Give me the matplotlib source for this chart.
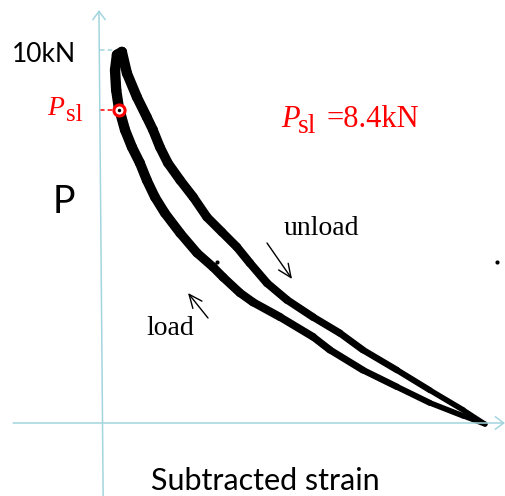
import matplotlib
matplotlib.use("Agg")
import numpy as np
from matplotlib import pyplot as plt
from matplotlib.collections import LineCollection

# normalised subtracted strain (loop tip = 1.0) and load P in kN
load_strain = [1.000, 0.943, 0.856, 0.770, 0.681, 0.595, 0.551, 0.465, 0.394, 0.360,
               0.316, 0.290, 0.248, 0.204, 0.164, 0.138, 0.117, 0.099, 0.078, 0.060,
               0.044, 0.037, 0.034, 0.039]
load_p = [-0.03, 0.19, 0.54, 0.97, 1.42, 1.96, 2.31, 2.84, 3.24, 3.49,
          3.91, 4.18, 4.56, 5.09, 5.63, 6.06, 6.51, 6.97, 7.40, 7.86,
          8.45, 8.93, 9.46, 9.87]
unload_strain = [0.052, 0.065, 0.091, 0.117, 0.133, 0.151, 0.172, 0.204, 0.238, 0.274,
                 0.313, 0.352, 0.386, 0.431, 0.483, 0.551, 0.621, 0.681, 0.770, 0.856,
                 0.943, 1.000]
unload_p = [9.95, 9.38, 8.74, 8.20, 7.86, 7.40, 6.97, 6.51, 6.06, 5.52,
            5.12, 4.72, 4.29, 3.75, 3.30, 2.84, 2.41, 1.96, 1.42, 0.88,
            0.35, -0.03]
speck_strain = [0.300, 1.031]
speck_p = [4.32, 4.32]

P_MAX = 10.0
P_SL = 8.4
SL_STRAIN = 0.044

W, H = 506, 496
AXIS_C = "#a3d5de"

fig = plt.figure(figsize=(W / 100, H / 100), dpi=100)
ax = fig.add_axes([0, 0, 1, 1])
ax.set_xlim(-102 / 383, 404 / 383)
ax.set_ylim(-73 / 37.3, 423 / 37.3)
ax.axis("off")


def fp(x, y):
    # picture pixel (top-left origin) -> figure fraction
    return x / W, 1 - y / H


# axes with open arrow heads
arr = dict(arrowstyle="->,head_length=0.6,head_width=0.45", color=AXIS_C, lw=1.1,
           mutation_scale=10, shrinkA=0, shrinkB=0)
ax.annotate("", xy=(-0.008, 11.07), xytext=(0.003, -1.96), arrowprops=arr)
ax.annotate("", xy=(1.052, 0), xytext=(-0.232, 0), arrowprops=arr)

# dashed guides
ax.plot([-0.005, 0.04], [P_MAX, P_MAX], ls=(0, (3, 2)), color=AXIS_C, lw=1.1)
ax.plot([-0.005, SL_STRAIN], [P_SL, P_SL], ls=(0, (3, 2)), color="red", lw=1.1)

# hysteresis loop, pen gets thinner towards the tip
xs = np.array(load_strain + unload_strain)
ys = np.array(load_p + unload_p)
pts = np.column_stack([xs, ys])
segs = np.stack([pts[:-1], pts[1:]], axis=1)
mid = (xs[:-1] + xs[1:]) / 2
lc = LineCollection(segs, colors="black", linewidths=7.6 - 4.0 * mid,
                    capstyle="round", joinstyle="round")
ax.add_collection(lc)
ax.plot(speck_strain, speck_p, "o", color="black", ms=3, mew=0)

# P_sl marker
ax.plot([SL_STRAIN], [P_SL], "o", ms=8, mfc="white", mec="red", mew=2.2)
ax.plot([SL_STRAIN], [P_SL], "o", ms=2.5, color="black", mew=0)

# load / unload arrows
small = dict(arrowstyle="->,head_length=0.8,head_width=0.35", color="black", lw=1.0,
             mutation_scale=12, shrinkA=0, shrinkB=0)
ax.annotate("", xy=fp(188, 293), xycoords="figure fraction",
            xytext=fp(208, 318), textcoords="figure fraction", arrowprops=small)
ax.annotate("", xy=fp(292, 279), xycoords="figure fraction",
            xytext=fp(267, 243), textcoords="figure fraction", arrowprops=small)

serif = "Liberation Serif"
sans = "Lato"

fig.text(*fp(76, 62), "10kN", family=sans, fontsize=19, ha="right", va="baseline")

# P_sl label at the axis
fig.text(*fp(47, 115), "P", family=serif, style="italic", color="red", fontsize=20,
         va="baseline")
fig.text(*fp(66, 121), "sl", family=serif, color="red", fontsize=18, va="baseline")

fig.text(*fp(53, 213), "P", family=sans, fontsize=27, va="baseline")

# P_sl value
fig.text(*fp(281, 127), "P", family=serif, style="italic", color="red", fontsize=22,
         va="baseline")
fig.text(*fp(298, 133), "sl", family=serif, color="red", fontsize=20, va="baseline")
fig.text(*fp(326, 127), "=8.4kN", family=serif, color="red", fontsize=22, va="baseline")

fig.text(*fp(284, 235), "unload", family=serif, fontsize=20, va="baseline")
fig.text(*fp(146, 335), "load", family=serif, fontsize=20, va="baseline")
fig.text(*fp(151, 490), "Subtracted strain", family=sans, fontsize=22, va="baseline")

fig.savefig("out.png", dpi=100)
